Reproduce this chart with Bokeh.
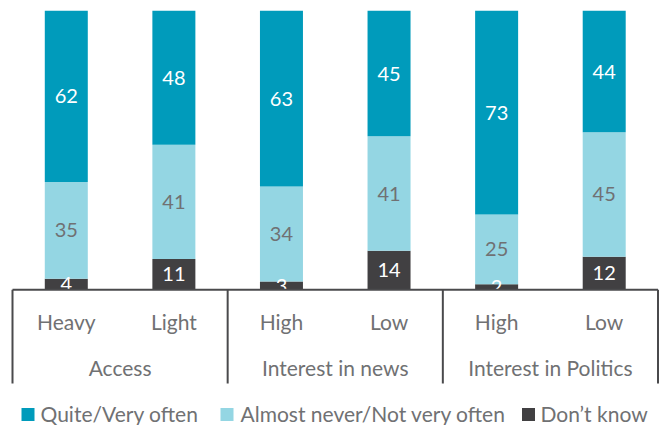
from bokeh.plotting import figure
from bokeh.models import Range1d, ColumnDataSource
from bokeh.core.properties import value
from bokeh.embed import file_html
from bokeh.resources import INLINE

# ---- data ----
groups = ["Access", "Interest in news", "Interest in Politics"]
subcats = ["Heavy", "Light", "High", "Low", "High", "Low"]
often = [62, 48, 63, 45, 73, 44]
never = [35, 41, 34, 41, 25, 45]
dontknow = [4, 11, 3, 14, 2, 12]
series_names = ["Quite/Very often", "Almost never/Not very often", "Don\u2019t know"]

# ---- style ----
C_OFTEN = "#009bbb"
C_NEVER = "#94d6e3"
C_DK = "#414042"
GREY = "#707173"
LINE = "#4a4a4c"
FONT = "Lato"

X0 = 12.0
U = (657.5 - X0) / 6.0   # px per category unit
PXV = 2.79               # px per percent
BASE = 289.3             # y of baseline (px from top)
W, H = 659, 425

def vy(py):
    return (BASE - py) / PXV

def ux(px):
    return (px - X0) / U

p = figure(width=W, height=H, output_backend="svg", toolbar_location=None,
           x_range=Range1d(ux(0), ux(W)), y_range=Range1d(vy(H), vy(0)),
           min_border=0, outline_line_color=None)
p.axis.visible = False
p.grid.visible = False
p.background_fill_color = "white"
p.border_fill_color = "white"

n = len(subcats)
xs = [i + 0.5 for i in range(n)]
tot = [often[i] + never[i] + dontknow[i] for i in range(n)]
dk_n = [dontknow[i] * 100.0 / tot[i] for i in range(n)]
nv_n = [never[i] * 100.0 / tot[i] for i in range(n)]

b0 = [0.0] * n
b1 = [dk_n[i] for i in range(n)]
b2 = [dk_n[i] + nv_n[i] for i in range(n)]
b3 = [100.0] * n

bw = 43.0 / U
p.vbar(x=xs, bottom=b0, top=b1, width=bw, fill_color=C_DK, line_color=None)
p.vbar(x=xs, bottom=b1, top=b2, width=bw, fill_color=C_NEVER, line_color=None)
p.vbar(x=xs, bottom=b2, top=b3, width=bw, fill_color=C_OFTEN, line_color=None)

def seg_labels(bot, top, vals, color):
    src = ColumnDataSource(dict(x=xs, y=[(bot[i] + top[i]) / 2 for i in range(n)],
                                t=[str(v) for v in vals]))
    p.text(x="x", y="y", text="t", source=src, text_align="center",
           text_baseline="middle", text_font=value(FONT), text_font_size="20px",
           text_color=color)

seg_labels(b0, b1, dontknow, "white")
seg_labels(b1, b2, never, GREY)
seg_labels(b2, b3, often, "white")

# baseline and group separators
p.segment(x0=[0], y0=[0], x1=[n], y1=[0], line_color=LINE, line_width=2)
seps = [0, 2, 4, 6]
p.segment(x0=seps, y0=[0] * 4, x1=seps, y1=[vy(383)] * 4, line_color=LINE, line_width=2)

# category labels
p.text(x=xs, y=[vy(321)] * n, text=subcats, text_align="center", text_baseline="middle",
       text_font=value(FONT), text_font_size="21px", text_color=GREY)
# group labels
p.text(x=[1, 3, 5], y=[vy(367)] * 3, text=groups, text_align="center", text_baseline="middle",
       text_font=value(FONT), text_font_size="21px", text_color=GREY)

# legend
leg_sq = [27.5, 226.5, 528]
leg_tx = [40, 240, 540]
p.scatter(x=[ux(v) for v in leg_sq], y=[vy(414)] * 3, marker="square", size=13,
          fill_color=[C_OFTEN, C_NEVER, C_DK], line_color=None)
p.text(x=[ux(v) for v in leg_tx], y=[vy(412.5)] * 3, text=series_names, text_align="left",
       text_baseline="middle", text_font=value(FONT), text_font_size="21px", text_color=GREY)

open("out.html", "w").write(file_html(p, INLINE))
